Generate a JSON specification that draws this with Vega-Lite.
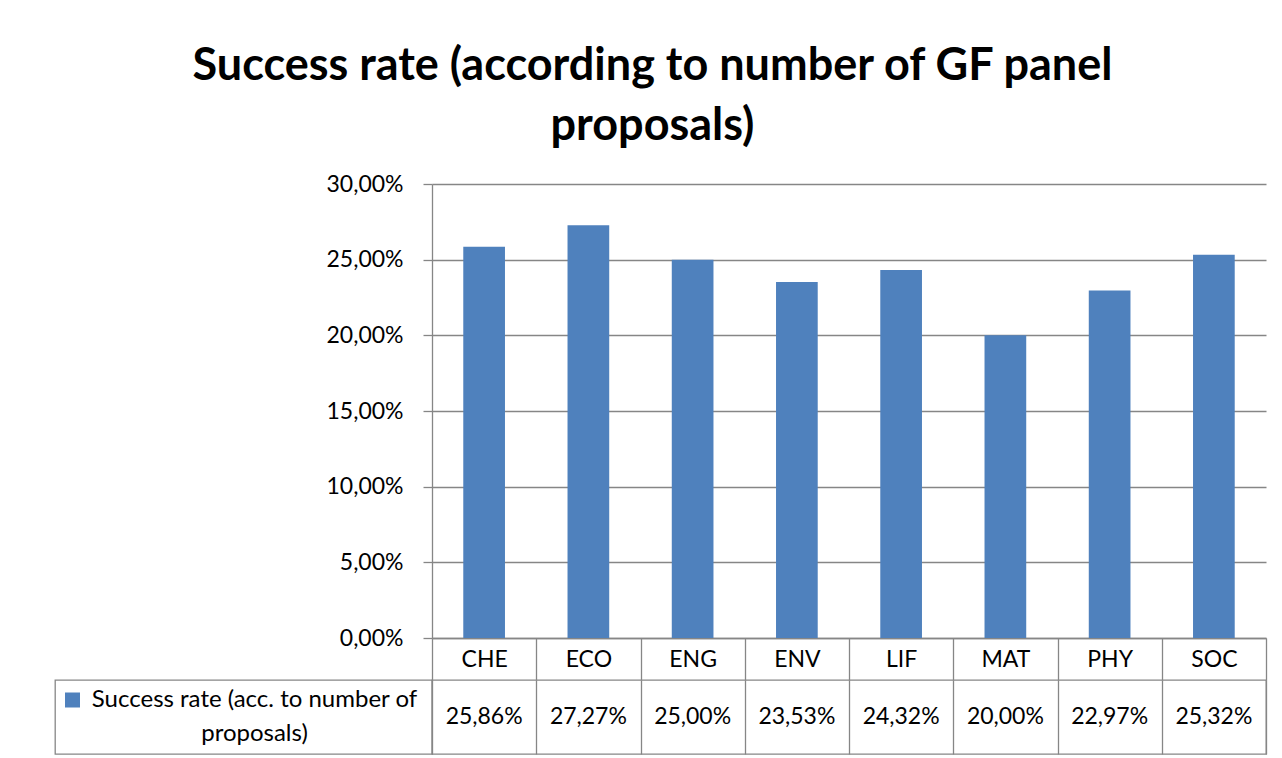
{
  "$schema": "https://vega.github.io/schema/vega-lite/v6.json",
  "padding": {"left": 54, "top": 44, "right": 17, "bottom": 5},
  "background": "white",
  "title": {
    "text": ["Success rate (according to number of GF panel", "proposals)"],
    "font": "Lato",
    "fontSize": 45,
    "fontWeight": "bold",
    "lineHeight": 60,
    "color": "#000000",
    "anchor": "middle",
    "offset": 24,
    "dx": -8
  },
  "data": {
    "values": [
      {"panel": "CHE", "rate": 0.2586},
      {"panel": "ECO", "rate": 0.2727},
      {"panel": "ENG", "rate": 0.25},
      {"panel": "ENV", "rate": 0.2353},
      {"panel": "LIF", "rate": 0.2432},
      {"panel": "MAT", "rate": 0.20},
      {"panel": "PHY", "rate": 0.2297},
      {"panel": "SOC", "rate": 0.2532}
    ]
  },
  "columns": 2,
  "spacing": {"row": 42, "column": 0},
  "bounds": "flush",
  "resolve": {"scale": {"x": "independent", "y": "independent"}},
  "concat": [
    {
      "width": 377,
      "height": 454,
      "view": {"stroke": null},
      "data": {"values": [{"blank": ""}]},
      "mark": {"type": "text"},
      "encoding": {"text": {"field": "blank"}}
    },
    {
      "width": 834,
      "height": 454,
      "view": {"stroke": null},
      "mark": {"type": "bar", "color": "#4F81BD", "width": {"band": 0.4}},
      "encoding": {
        "x": {
          "field": "panel", "type": "nominal", "sort": null,
          "scale": {"paddingInner": 0, "paddingOuter": 0},
          "axis": {
            "title": null, "labelAngle": 0, "tickBand": "extent", "tickSize": 42,
            "ticks": true, "domain": true, "grid": false,
            "labelBaseline": "middle", "labelPadding": -21, "labelAlign": "center"
          }
        },
        "y": {
          "field": "rate", "type": "quantitative",
          "scale": {"domain": [0, 0.3], "nice": false},
          "axis": {
            "title": null, "values": [0, 0.05, 0.1, 0.15, 0.2, 0.25, 0.3],
            "format": ".2%", "grid": true, "tickSize": 9, "labelPadding": 20
          }
        }
      }
    },
    {
      "width": 377,
      "height": 74,
      "view": {"stroke": "#868686", "strokeWidth": 1.3},
      "data": {"values": [{"series": "Success rate (acc. to number of\nproposals)"}]},
      "layer": [
        {
          "mark": {"type": "text", "fontSize": 24, "lineBreak": "\n", "lineHeight": 34, "dx": 11, "dy": -17, "align": "center", "baseline": "middle"},
          "encoding": {"text": {"field": "series"}}
        },
        {
          "mark": {"type": "point", "shape": "square", "size": 225, "filled": true, "color": "#4F81BD", "opacity": 1, "xOffset": -171, "yOffset": -17},
          "encoding": {}
        }
      ]
    },
    {
      "width": 834,
      "height": 74,
      "view": {"stroke": "#868686", "strokeWidth": 1.3},
      "mark": {"type": "text", "fontSize": 23},
      "encoding": {
        "x": {
          "field": "panel", "type": "nominal", "sort": null,
          "scale": {"paddingInner": 0, "paddingOuter": 0},
          "axis": {"title": null, "labels": false, "ticks": false, "domain": false, "grid": true, "tickBand": "extent"}
        },
        "text": {"field": "rate", "type": "quantitative", "format": ".2%"}
      }
    }
  ],
  "config": {
    "font": "Lato",
    "view": {"stroke": null},
    "axis": {
      "labelFont": "Lato", "labelFontSize": 23, "labelColor": "#000000",
      "domainColor": "#868686", "tickColor": "#868686", "gridColor": "#868686",
      "domainWidth": 1.3, "tickWidth": 1.3, "gridWidth": 1.3, "gridOpacity": 1
    },
    "text": {"font": "Lato", "fontSize": 23, "color": "#000000"},
    "locale": {
      "number": {"decimal": ",", "thousands": ".", "grouping": [3], "currency": ["", " €"]}
    }
  }
}
